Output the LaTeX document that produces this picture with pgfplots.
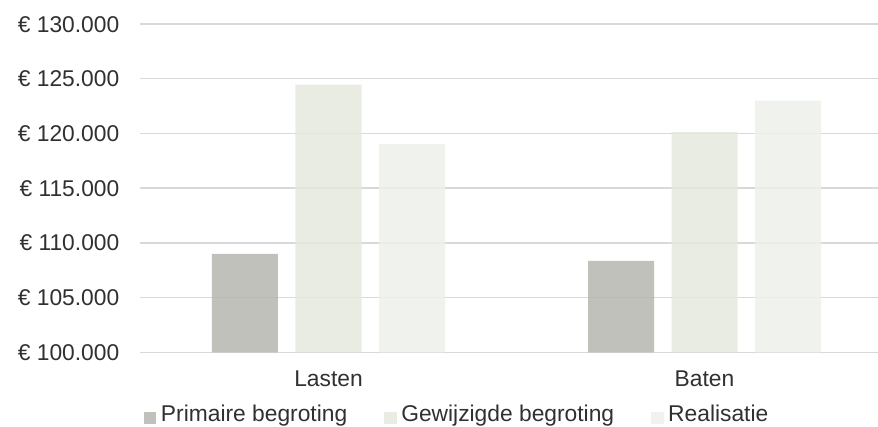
\documentclass[border=0pt]{standalone}
\usepackage{fontspec}
\setmainfont{Liberation Sans}
\usepackage{pgfplots}
\pgfplotsset{compat=1.18}

\definecolor{txt}{HTML}{303030}
\definecolor{gridc}{HTML}{D9D9D9}
% bar fills are slightly see-through, so the grid shows faintly behind them
\definecolor{primaire}{HTML}{B4B6AE}
\definecolor{gewijzigd}{HTML}{E5E9DE}
\definecolor{realisatie}{HTML}{EDF0EA}

\begin{document}
\begin{tikzpicture}
\begin{axis}[
  anchor=south west, at={(0,0)},
  scale only axis,
  width=752bp, height=328.3bp,
  xmin=-0.5, xmax=1.5,
  ymin=100000, ymax=130000,
  scaled y ticks=false,
  axis line style={draw=none},
  major tick length=0pt,
  xtick={0,1},
  xticklabels={Lasten, Baten},
  ytick={100000,105000,110000,115000,120000,125000,130000},
  yticklabels={€ 100.000,€ 105.000,€ 110.000,€ 115.000,€ 120.000,€ 125.000,€ 130.000},
  ymajorgrids,
  major grid style={draw=gridc, line width=1.5bp},
  every tick label/.append style={font=\fontsize{22.8bp}{26bp}\selectfont, text=txt},
  yticklabel style={anchor=base east, inner sep=0pt, xshift=-21bp, yshift=-8.1bp},
  xticklabel style={anchor=base, inner sep=0pt, yshift=-34.4bp},
  ybar, bar width=66bp,
  every axis plot/.append style={fill opacity=0.85},
  legend columns=3,
  legend style={
    draw=none, fill=none, inner sep=0pt, outer sep=0pt,
    at={(axis description cs:0,0)}, anchor=north west,
    xshift=3.5bp, yshift=-53bp,
    font=\fontsize{22.8bp}{26bp}\selectfont, text=txt,
    nodes={inner sep=0pt, anchor=base west},
    /tikz/every odd column/.append style={column sep=4.5bp},
    /tikz/every even column/.append style={column sep=37bp},
  },
  legend image code/.code={\fill[#1] (0bp,-2.3bp) rectangle (12.5bp,10bp);},
]
\addplot[fill=primaire, draw=none, bar shift=-83.5bp] coordinates {(0,109000) (1,108350)};
\addplot[fill=gewijzigd, draw=none, bar shift=0bp] coordinates {(0,124450) (1,120150)};
\addplot[fill=realisatie, draw=none, bar shift=83.5bp] coordinates {(0,119050) (1,123000)};
\legend{Primaire begroting, Gewijzigde begroting, Realisatie}
\end{axis}
\pgfresetboundingbox
\useasboundingbox (-140.5bp,-74.7bp) rectangle (737.5bp,352.3bp);
\end{tikzpicture}
\end{document}
